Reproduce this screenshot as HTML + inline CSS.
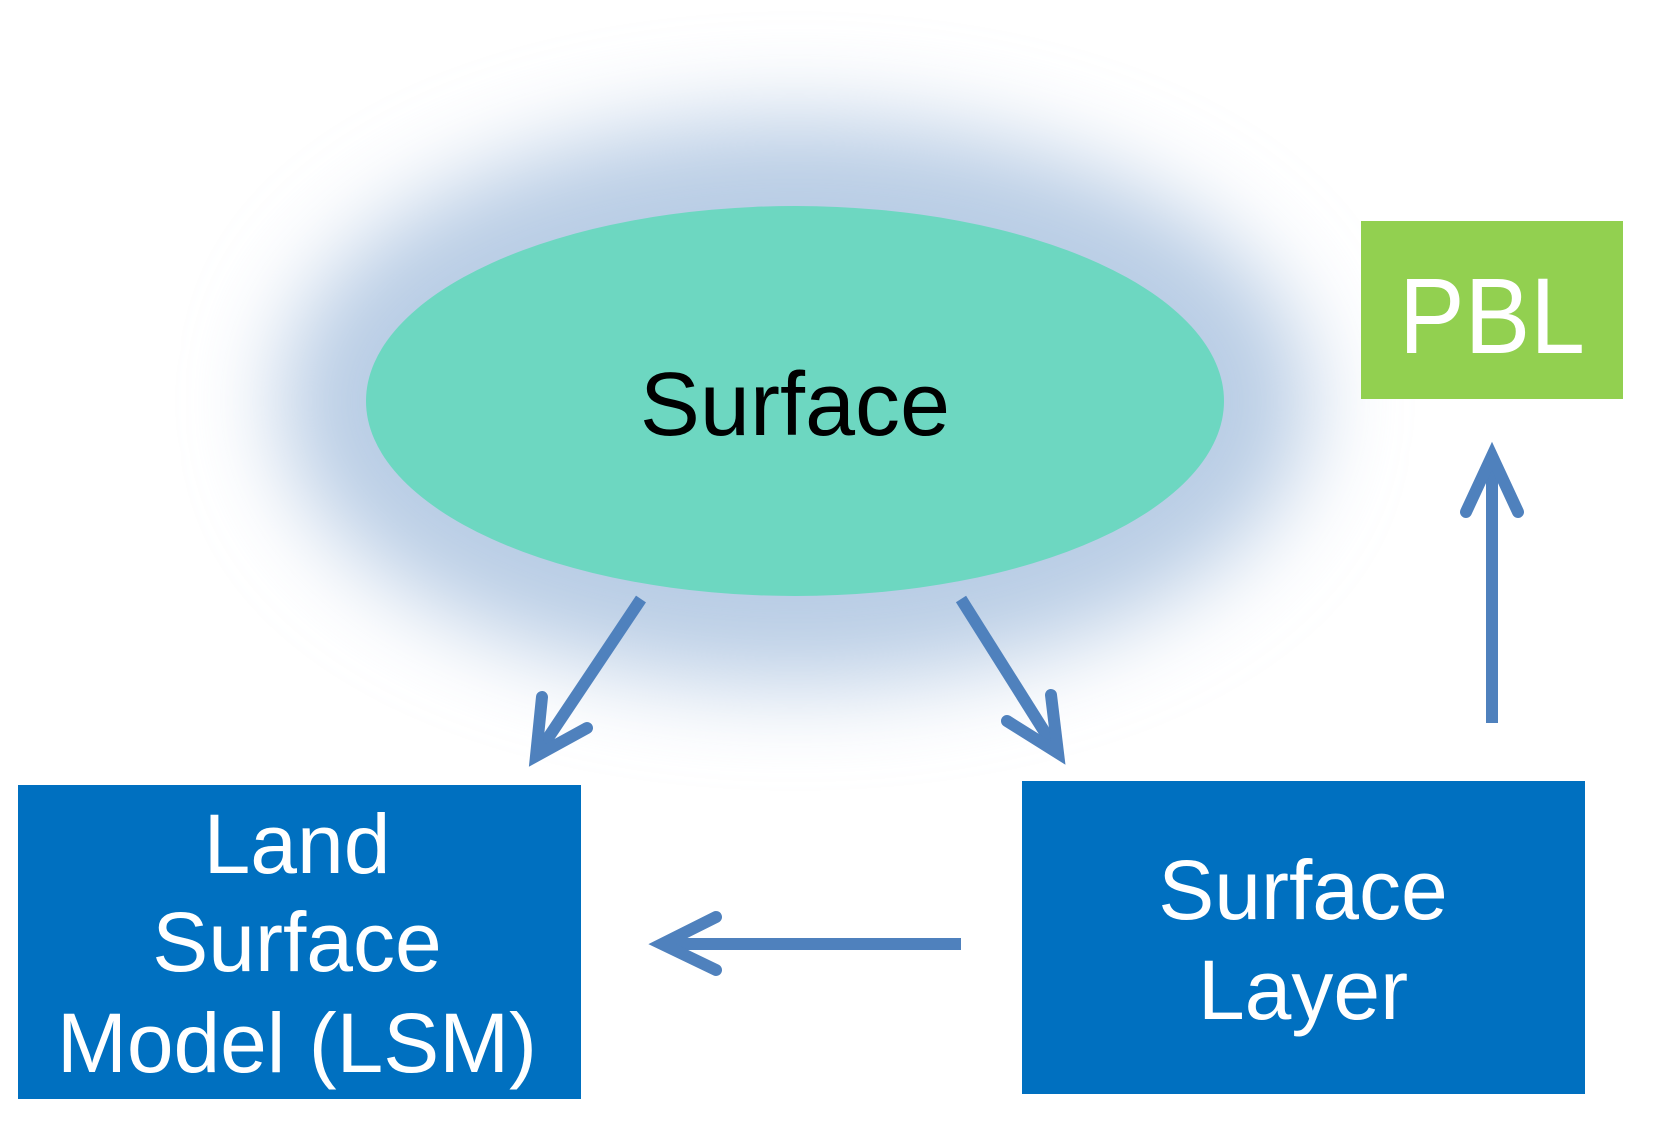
<!DOCTYPE html>
<html><head><style>body{margin:0;background:#fff}</style></head><body>
<svg width="1663" height="1141" viewBox="0 0 1663 1141" xmlns="http://www.w3.org/2000/svg">
<defs><filter id="b" x="-50%" y="-50%" width="200%" height="200%"><feGaussianBlur stdDeviation="45"/></filter></defs>
<ellipse cx="795" cy="401" rx="515" ry="283" fill="#b9cde5" filter="url(#b)"/>
<ellipse cx="795" cy="401" rx="429" ry="195" fill="#6dd7c1"/>
<text x="795" y="435" text-anchor="middle" font-family="Liberation Sans, sans-serif" font-size="90" fill="#000">Surface</text>
<rect x="1361" y="221" width="262" height="178" fill="#92d050"/>
<text x="1492" y="353" text-anchor="middle" font-family="Liberation Sans, sans-serif" font-size="108" fill="#fff" textLength="186" lengthAdjust="spacingAndGlyphs">PBL</text>
<rect x="18" y="785" width="563" height="314" fill="#0070c0"/>
<rect x="1022" y="781" width="563" height="313" fill="#0070c0"/>
<g font-family="Liberation Sans, sans-serif" font-size="84" fill="#fff" text-anchor="middle">
<text x="297" y="873">Land</text>
<text x="297" y="971">Surface</text>
<text x="297" y="1072" textLength="480" lengthAdjust="spacingAndGlyphs">Model (LSM)</text>
<text x="1303" y="919">Surface</text>
<text x="1303" y="1019">Layer</text>
</g>
<g stroke="#4f81bd" stroke-width="12" fill="none" stroke-linecap="round" stroke-linejoin="miter">
<line x1="641" y1="599" x2="538" y2="753" stroke-linecap="butt"/>
<polyline points="542,697 536,756 587,728"/>
<line x1="961" y1="599" x2="1056" y2="750" stroke-linecap="butt"/>
<polyline points="1007,721 1058,753 1051,695"/>
<line x1="961" y1="944" x2="665" y2="944" stroke-linecap="butt"/>
<polyline points="716,917 662,944 716,970"/>
<line x1="1492" y1="723" x2="1492" y2="460" stroke-linecap="butt"/>
<polyline points="1466,512 1492,456 1518,512"/>
</g>
</svg>
</body></html>
